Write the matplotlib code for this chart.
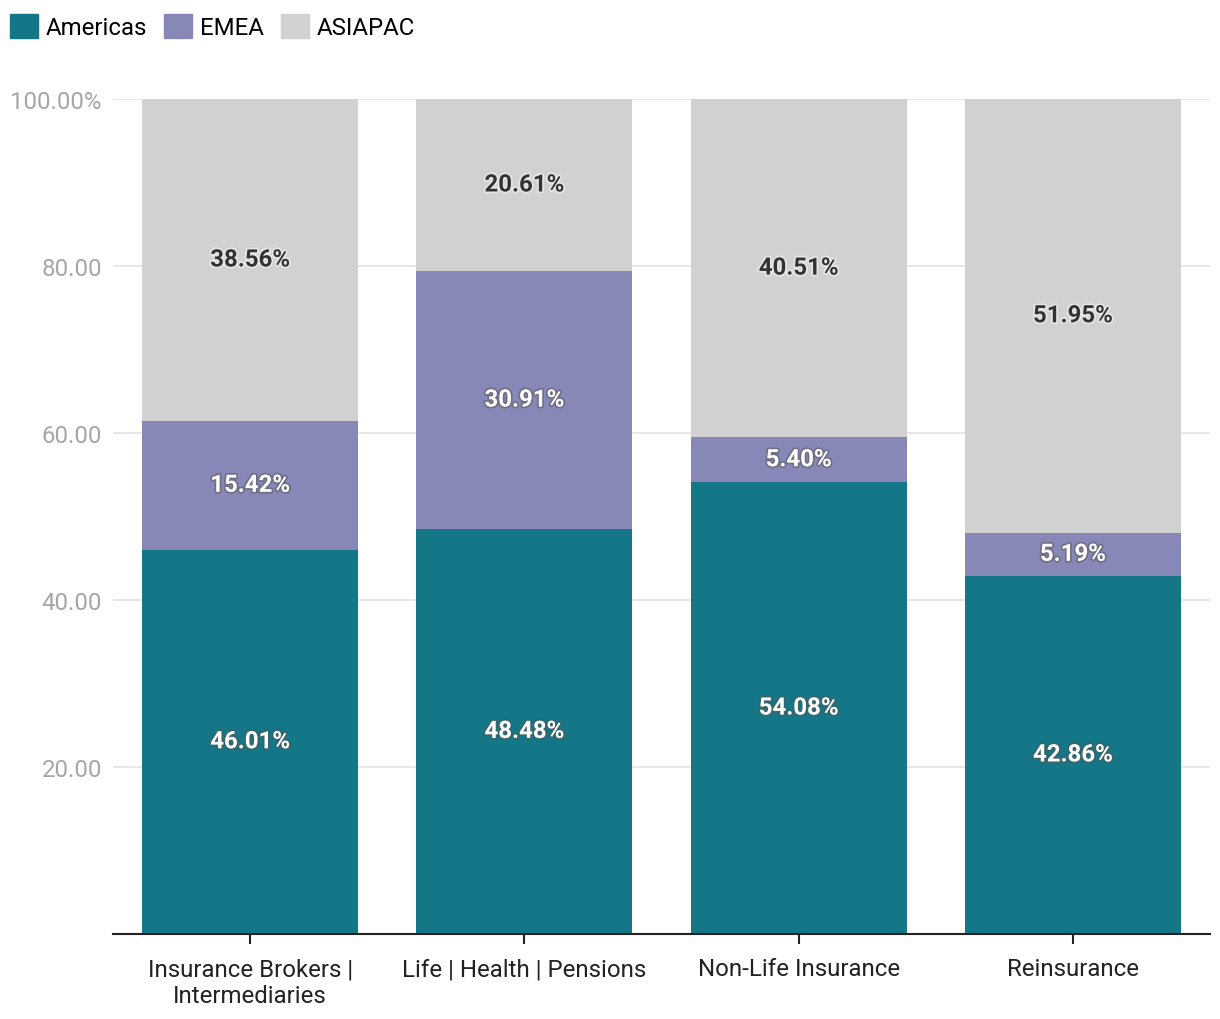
import matplotlib.pyplot as plt
import matplotlib.patheffects as pe
from matplotlib.patches import Patch
import numpy as np

plt.rcParams['font.family'] = ['Roboto', 'DejaVu Sans']

categories = ['Insurance Brokers |\nIntermediaries', 'Life | Health | Pensions',
              'Non-Life Insurance', 'Reinsurance']
americas = [46.01, 48.48, 54.08, 42.86]
emea = [15.42, 30.91, 5.40, 5.19]
asiapac = [38.56, 20.61, 40.51, 51.95]
series = ['Americas', 'EMEA', 'ASIAPAC']
colors = ['#147787', '#8888b8', '#d1d1d1']
yticks = [20, 40, 60, 80, 100]
ytick_labels = ['20.00', '40.00', '60.00', '80.00', '100.00%']

fig = plt.figure(figsize=(12.2, 10.2), dpi=100)
ax = fig.add_axes([0.0926, 0.0835, 0.8992, 0.8185])

x = np.arange(len(categories))
w = 0.788
bottom = np.zeros(len(categories))
for name, vals, c in zip(series, [americas, emea, asiapac], colors):
    vals = np.array(vals)
    ax.bar(x, vals, w, bottom=bottom, color=c, zorder=2)
    for xi, b, v in zip(x, bottom, vals):
        if name == 'ASIAPAC':
            ax.text(xi, b + v / 2, f'{v:.2f}%', ha='center', va='center',
                    fontsize=17.3, fontweight='bold', color='#333333', zorder=3,
                    path_effects=[pe.withStroke(linewidth=2.5, foreground='#e6e6e6')])
        else:
            ax.text(xi, b + v / 2, f'{v:.2f}%', ha='center', va='center',
                    fontsize=17.3, fontweight='bold', color='white', zorder=3,
                    path_effects=[pe.withStroke(linewidth=2.5, foreground='#555555', alpha=0.5)])
    bottom += vals

ax.set_xlim(-0.5, 3.5)
ax.set_ylim(0, 100)
ax.set_yticks(yticks)
ax.set_yticklabels(ytick_labels)
ax.yaxis.grid(True, color='#e3e3e3', lw=1.2, zorder=0)
ax.tick_params(axis='y', length=0, labelsize=17.3, labelcolor='#a6a6a6', pad=8)
ax.set_xticks(x)
ax.set_xticklabels(categories)
ax.tick_params(axis='x', length=7, width=1.5, color='#222222', labelsize=17.3,
               labelcolor='#222222', pad=10)
for s in ['top', 'right', 'left']:
    ax.spines[s].set_visible(False)
ax.spines['bottom'].set_color('#222222')
ax.spines['bottom'].set_linewidth(1.5)
ax.spines['bottom'].set_zorder(4)

handles = [Patch(color=c, label=n) for n, c in zip(series, colors)]
fig.legend(handles=handles, loc='upper left', bbox_to_anchor=(-0.0066, 1.003), ncol=3,
           frameon=False, fontsize=17.3, handlelength=1.15, handleheight=1.15,
           handletextpad=0.35, columnspacing=0.7, borderaxespad=0.35)

plt.savefig('out.png', dpi=100)
